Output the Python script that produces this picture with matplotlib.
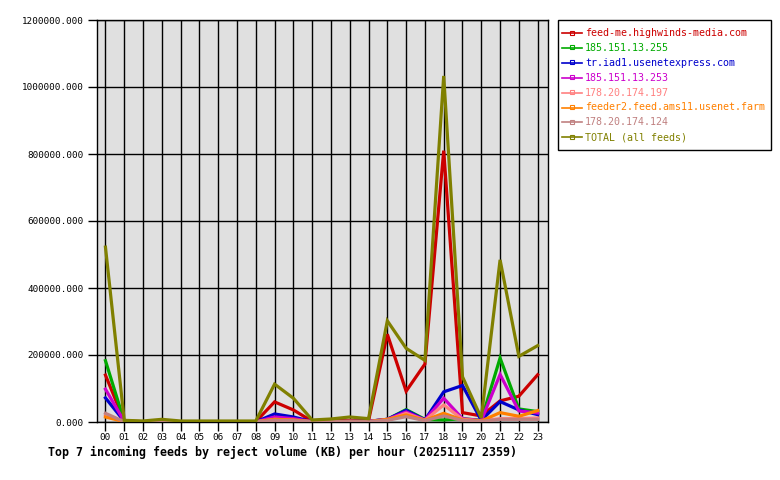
import matplotlib
matplotlib.use("Agg")
import matplotlib.pyplot as plt
from matplotlib.lines import Line2D
from matplotlib.patches import Rectangle

hours = ["%02d" % h for h in range(24)]

feed_names = [
    "feed-me.highwinds-media.com",
    "185.151.13.255",
    "tr.iad1.usenetexpress.com",
    "185.151.13.253",
    "178.20.174.197",
    "feeder2.feed.ams11.usenet.farm",
    "178.20.174.124",
    "TOTAL (all feeds)",
]

feed_me = [140000, 3000, 1000, 1000, 1000, 1000, 1000, 1000, 1000, 60000, 36000, 2000,
           3000, 5000, 4000, 262000, 92000, 173000, 810000, 28000, 18000, 63000, 77000, 141000]
ip_255 = [183000, 2000, 500, 500, 500, 500, 500, 500, 500, 10000, 5000, 1000,
          1000, 2000, 2000, 8000, 37000, 8000, 6000, 10000, 5000, 191000, 39000, 31000]
iad1 = [72000, 2000, 500, 500, 500, 500, 500, 500, 500, 24000, 15000, 1000,
        1000, 2000, 2000, 8000, 35000, 6000, 90000, 109000, 5000, 61000, 36000, 22000]
ip_253 = [98000, 2000, 500, 500, 500, 500, 500, 500, 500, 15000, 10000, 1000,
          1000, 2000, 2000, 8000, 30000, 6000, 71000, 10000, 4000, 142000, 33000, 27000]
ip_197 = [20000, 1000, 500, 500, 500, 500, 500, 500, 500, 8000, 5000, 1000,
          1000, 2000, 1000, 6000, 26000, 5000, 51000, 8000, 3000, 10000, 10000, 12000]
ams11 = [15000, 1000, 500, 500, 500, 500, 500, 500, 500, 8000, 6000, 1000,
         1000, 2000, 1000, 8000, 21000, 5000, 26000, 6000, 3000, 28000, 17000, 34000]
ip_124 = [26000, 1000, 500, 500, 500, 500, 500, 500, 500, 5000, 4000, 1000,
          1000, 1000, 1000, 5000, 16000, 4000, 18000, 5000, 2000, 8000, 8000, 8000]
total = [522000, 5000, 3000, 8000, 3000, 3000, 3000, 3000, 3000, 113000, 71000, 6000,
         9000, 15000, 10000, 302000, 220000, 184000, 1033000, 135000, 12000, 484000, 196000, 228000]

series = [feed_me, ip_255, iad1, ip_253, ip_197, ams11, ip_124, total]
colors = ["#cc0000", "#00aa00", "#0000cc", "#cc00cc", "#ff8080", "#ff8000", "#c08080", "#808000"]

yticks = [0, 200000, 400000, 600000, 800000, 1000000, 1200000]

W, H = 780, 480
fig = plt.figure(figsize=(W / 100, H / 100), dpi=100)
fig.patch.set_facecolor("white")
ax = fig.add_axes([97 / W, 58 / H, 451 / W, 402 / H])
ax.set_facecolor("#e0e0e0")

x = list(range(24))
for vals, c in zip(series, colors):
    ax.plot(x, vals, color=c, linewidth=2.3, solid_joinstyle="miter", zorder=3)

ax.set_xlim(-0.45, 23.55)
ax.set_ylim(0, 1200000)
ax.set_xticks(x)
ax.set_xticklabels(hours)
ax.set_yticks(yticks)
ax.set_yticklabels(["%.3f" % v for v in yticks])
ax.grid(True, color="black", linewidth=1.0, zorder=1)
ax.set_axisbelow(True)
for s in ax.spines.values():
    s.set_color("black")
    s.set_linewidth(1.0)

ax.tick_params(axis="both", direction="out", length=6.5, width=1.0, color="black",
               labelsize=6.7)
ax.tick_params(axis="x", pad=1.5)
ax.tick_params(axis="y", pad=3)
for lab in ax.get_xticklabels() + ax.get_yticklabels():
    lab.set_family("DejaVu Sans Mono")

# legend box drawn manually in pixel-based figure coordinates
def fx(px):
    return px / W

def fy(py):
    return 1 - py / H

fig.patches.append(Rectangle((fx(558), fy(150)), fx(771) - fx(558), fy(20) - fy(150),
                             transform=fig.transFigure, facecolor="white",
                             edgecolor="black", linewidth=1.0, zorder=5))
for i, (name, c) in enumerate(zip(feed_names, colors)):
    yy = 33 + i * 14.9
    fig.add_artist(Line2D([fx(562), fx(582)], [fy(yy), fy(yy)], color=c, linewidth=1.2,
                          transform=fig.transFigure, zorder=6))
    fig.add_artist(Line2D([fx(572)], [fy(yy - 0.5)], color=c, marker="s", markersize=2.6,
                          markerfacecolor="none", markeredgecolor=c, markeredgewidth=0.8,
                          linestyle="none", transform=fig.transFigure, zorder=7))
    fig.text(fx(585), fy(yy), name, color=c, family="DejaVu Sans Mono", size=7.2,
             va="center", ha="left", zorder=7)

fig.text(48 / W, 1 - 452 / H,
         "Top 7 incoming feeds by reject volume (KB) per hour (20251117 2359)",
         family="DejaVu Sans Mono", weight="bold", size=8.35, va="center", ha="left")

fig.savefig("out.png", dpi=100)
